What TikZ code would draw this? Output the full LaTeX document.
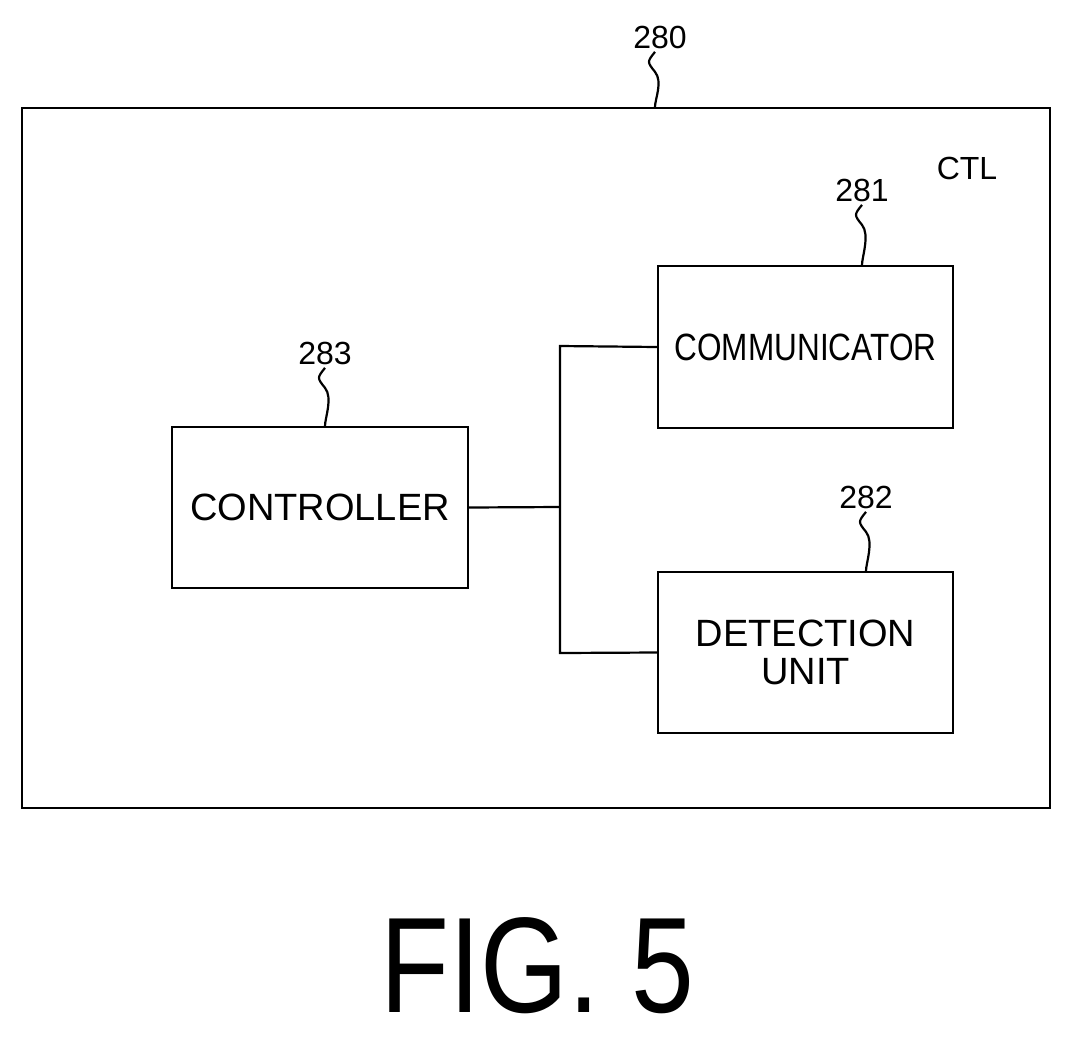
\documentclass[tikz,border=0pt]{standalone}
\usepackage{fontspec}
\setmainfont{Liberation Sans}
\begin{document}
\begin{tikzpicture}[x=1pt,y=-1pt,
 box/.style={draw,line width=2.2pt,inner sep=0pt},
 lbl/.style={font=\fontsize{38}{40}\selectfont,align=center},
 num/.style={font=\fontsize{32}{34}\selectfont},
 ln/.style={line width=2.2pt}]
\useasboundingbox (0,0) rectangle (1074,1042);
\node[box,minimum width=1028pt,minimum height=700pt] (outer) at (536,458) {};
\node[num] (ctl) at (967,168) {CTL};
\node[num] (n280) at (660,37) {280};
\node[box,minimum width=295pt,minimum height=162pt,lbl] (comm) at (805.5,347) {\scalebox{0.83}[1]{COMMUNICATOR}};
\node[box,minimum width=295pt,minimum height=161pt,lbl] (det) at (805.5,652.5) {DETECTION\\[-2pt]UNIT};
\node[box,minimum width=296pt,minimum height=161pt,lbl] (ctrl) at (320,507.5) {CONTROLLER};
\node[num] (n281) at (862,190) {281};
\node[num] (n282) at (866,497) {282};
\node[num] (n283) at (325,353) {283};
\coordinate (j) at (560,507);
\draw[ln] (ctrl.east) -- (j);
\draw[ln] (comm.west) -- (560,346) -- (560,653) -- (det.west);
\foreach \n/\b/\x in {n280/outer/655,n281/comm/862,n282/det/866,n283/ctrl/325}{
 \draw[ln] (\x,0 |- \n.south) .. controls +(-8,10) and +(-8,-10) .. ++(0,20) .. controls +(8,10) and +(0,-8) .. (\x,0 |- \b.north);
}
\node[font=\fontsize{136}{136}\selectfont] (fig) at (537,966) {\scalebox{0.83}[1]{FIG. 5}};
\end{tikzpicture}
\end{document}
